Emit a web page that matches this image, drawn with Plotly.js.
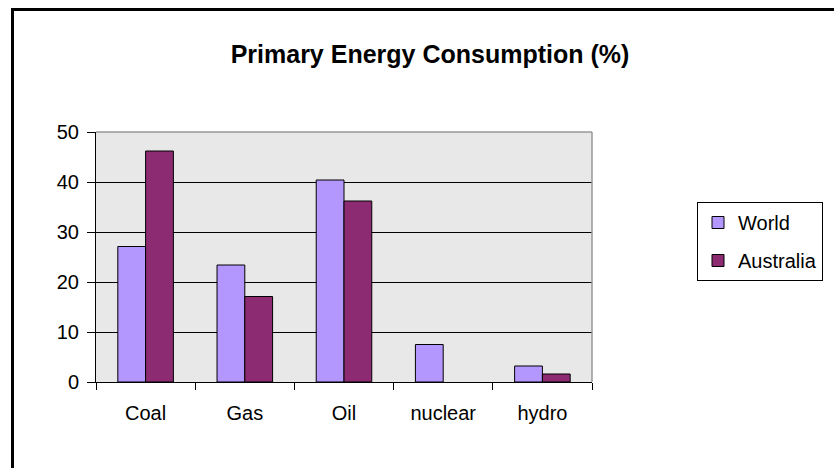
<!DOCTYPE html>
<html>
<head>
<meta charset="utf-8">
<script src="https://cdn.plot.ly/plotly-3.0.1.min.js"></script>
<style>
  html, body { margin: 0; padding: 0; background: #fff; }
  #wrap { position: relative; width: 834px; height: 468px; overflow: hidden; }
  #chart { width: 834px; height: 468px; }
  #frame { position: absolute; left: 11px; top: 8px; right: -10px; bottom: -10px;
           border-left: 3px solid #000; border-top: 3px solid #000; pointer-events: none; }
</style>
</head>
<body>
<div id="wrap">
  <div id="chart"></div>
  <div id="frame"></div>
</div>
<script>
const categories = ["Coal", "Gas", "Oil", "nuclear", "hydro"];
const worldValues = [27.1, 23.4, 40.4, 7.5, 3.2];
const australiaValues = [46.2, 17.1, 36.2, null, 1.6];
const yTicks = [0, 10, 20, 30, 40, 50];

const FONT = "Liberation Sans, Arial, sans-serif";

const traces = [
  { type: "bar", name: "World", x: categories, y: worldValues,
    marker: { color: "#B496FF", line: { color: "#000", width: 1 } }, legendgroup: "a" },
  { type: "bar", name: "Australia", x: categories, y: australiaValues,
    marker: { color: "#8D2B72", line: { color: "#000", width: 1 } }, legendgroup: "b" }
];

const layout = {
  width: 834, height: 468,
  margin: { l: 96, r: 241, t: 132, b: 86 },
  paper_bgcolor: "#fff",
  plot_bgcolor: "#E8E8E8",
  font: { family: FONT, size: 20, color: "#000" },
  barmode: "group",
  bargap: 0.44,
  bargroupgap: 0,
  showlegend: true,
  title: { text: "<b>Primary Energy Consumption (%)</b>", font: { family: FONT, size: 25, color: "#000" },
           x: 430 / 834, xref: "container", xanchor: "center", y: 1 - 54 / 468, yref: "container", yanchor: "middle" },
  xaxis: {
    type: "category", tickson: "boundaries", ticks: "outside", ticklen: 7, tickcolor: "#000",
    showline: true, linecolor: "#000", linewidth: 1, showgrid: false, zeroline: false,
    tickfont: { family: FONT, size: 20 }, ticklabelstandoff: 13, fixedrange: true
  },
  yaxis: {
    range: [0, 50], tickvals: yTicks, ticks: "outside", ticklen: 8, tickcolor: "#000",
    showline: true, linecolor: "#000", linewidth: 1, showgrid: true, gridcolor: "#000", gridwidth: 1,
    zeroline: false, tickfont: { family: FONT, size: 20 }, ticklabelstandoff: 4, fixedrange: true
  },
  legend: {
    x: (697 - 96) / 497, xanchor: "left", y: (382 - 202) / 250, yanchor: "top",
    bgcolor: "#fff", bordercolor: "#000", borderwidth: 1,
    font: { family: FONT, size: 20 }, traceorder: "grouped", tracegroupgap: 9,
    itemwidth: 30
  },
  shapes: [
    { type: "line", xref: "paper", yref: "paper", x0: 0, x1: 1, y0: 1, y1: 1,
      line: { color: "#999", width: 1.5 }, layer: "above" },
    { type: "line", xref: "paper", yref: "paper", x0: 1, x1: 1, y0: 0, y1: 1,
      line: { color: "#999", width: 1.5 }, layer: "above" }
  ],
  annotations: [
    { text: "<b>CHART 1</b>", xref: "paper", yref: "paper", x: (430 - 96) / 497, y: 1 + (132 - 3) / 250,
      xanchor: "center", yanchor: "bottom", showarrow: false,
      font: { family: FONT, size: 24, color: "#000" } }
  ]
};

Plotly.newPlot("chart", traces, layout, { displayModeBar: false, staticPlot: true });
</script>
</body>
</html>
